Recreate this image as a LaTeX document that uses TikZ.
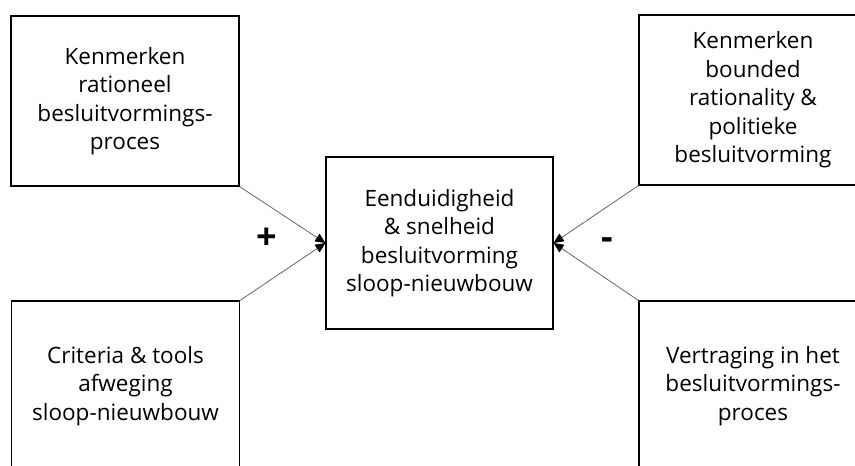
\documentclass[tikz,border=0pt]{standalone}
\usepackage{fontspec}
\setmainfont{Open Sans}
\usepackage{tikz}
\usetikzlibrary{arrows.meta, positioning}

\begin{document}
\begin{tikzpicture}[
  x=1pt, y=-1pt,
  box/.style={draw, line width=1.2pt, minimum width=228pt, minimum height=170pt, align=center, font=\fontsize{22.5}{28.5}\selectfont},
  arrow/.style={-{Triangle[length=10pt, width=9pt, black]}, line width=0.8pt, black!60},
  sign/.style={font=\fontsize{36}{36}\selectfont\bfseries},
]
\clip (0,0) rectangle (855,466);

% Factors left
\node[box] (rational) at (125,101) {Kenmerken\\rationeel\\besluitvormings-\\proces};
\node[box] (criteria) at (125.5,386) {Criteria \& tools\\afweging\\sloop-nieuwbouw};

% Outcome
\node[box, minimum width=227pt, minimum height=172pt] (outcome) at (439.5,243) {Eenduidigheid\\\& snelheid\\besluitvorming\\sloop-nieuwbouw};

% Factors right
\node[box] (bounded) at (753,100) {Kenmerken\\bounded\\rationality \&\\politieke\\besluitvorming};
\node[box] (delay) at (753,386) {Vertraging in het\\besluitvormings-\\proces};

% Arrows
\draw[arrow] (rational.south east) -- (outcome.west);
\draw[arrow] (criteria.north east) -- (outcome.west);
\draw[arrow] (bounded.south west) -- (outcome.east);
\draw[arrow] (delay.north west) -- (outcome.east);

% Signs
\node[sign] (plus) at (267,239) {+};
\node[sign] (minus) at (607,244) {-};

\end{tikzpicture}
\end{document}
